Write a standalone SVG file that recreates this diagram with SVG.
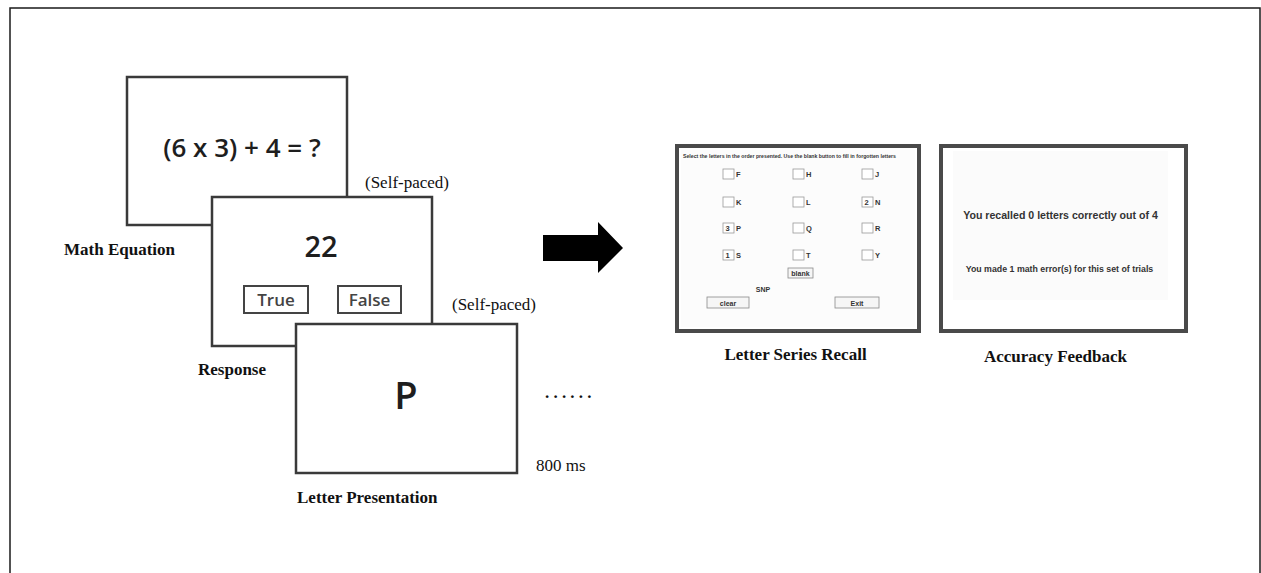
<svg xmlns="http://www.w3.org/2000/svg" width="1261" height="573" viewBox="0 0 1261 573">
  <style>
    .frame { fill: #ffffff; stroke: #1a1a1a; stroke-width: 1.5; }
    .card { fill: #ffffff; stroke: #3a3a3a; stroke-width: 2.5; }
    .screen { fill: #ffffff; stroke: #4a4a4a; stroke-width: 4; }
    .btn { fill: #ffffff; stroke: #444444; stroke-width: 2; }
    .sbox { fill: #ffffff; stroke: #9a9a9a; stroke-width: 0.8; }
    .sbtn { fill: #f6f6f6; stroke: #8a8a8a; stroke-width: 0.8; }
    .cap { font-family: "Liberation Serif", serif; font-weight: bold; font-size: 17px; fill: #111111; }
    .note { font-family: "Liberation Serif", serif; font-size: 17px; fill: #111111; }
    .big { font-family: "Open Sans", sans-serif; fill: #1e1e1e; text-anchor: middle; }
    .btxt { font-family: "Open Sans", sans-serif; font-weight: 600; font-size: 17px; fill: #444444; text-anchor: middle; }
    .ui { font-family: "Liberation Sans", sans-serif; font-weight: bold; fill: #333333; }
  </style>

  <!-- outer border -->
  <rect class="frame" x="10" y="8" width="1250" height="600"/>

  <!-- math equation card -->
  <g id="math-equation">
    <rect class="card" x="127" y="77" width="220" height="148"/>
    <text class="big" x="242" y="157" font-size="26" font-weight="600">(6 x 3) + 4 = ?</text>
    <text class="cap" x="64" y="255">Math Equation</text>
    <text class="note" x="365" y="188">(Self-paced)</text>
  </g>

  <!-- response card -->
  <g id="response">
    <rect class="card" x="212" y="197" width="220" height="149"/>
    <text class="big" x="321" y="257" font-size="29" font-weight="600">22</text>
    <rect class="btn" x="244" y="286" width="64" height="27"/>
    <text class="btxt" x="276" y="306">True</text>
    <rect class="btn" x="338" y="286" width="63" height="27"/>
    <text class="btxt" x="369.5" y="306">False</text>
    <text class="cap" x="198" y="375">Response</text>
    <text class="note" x="452" y="310">(Self-paced)</text>
  </g>

  <!-- letter presentation card -->
  <g id="letter-presentation">
    <rect class="card" x="296" y="324" width="221" height="149"/>
    <text class="big" x="406" y="409" font-size="38" font-weight="600">P</text>
    <text class="note" x="536" y="471">800 ms</text>
    <text class="cap" x="297" y="503">Letter Presentation</text>
    <text class="note" x="545" y="398" font-weight="bold" letter-spacing="4.2">......</text>
  </g>

  <!-- transition arrow -->
  <g id="connectors">
    <path d="M543 235 H598 V222 L623 248 L598 273 V261 H543 Z" fill="#000000"/>
  </g>

  <!-- letter series recall screen -->
  <g id="letter-series-recall">
    <rect class="screen" x="677" y="146" width="242" height="185"/>
    <rect x="681" y="150" width="234" height="177" fill="#fcfcfc"/>
    <text class="ui" x="683" y="158" font-size="5.2">Select the letters in the order presented.  Use the blank button to fill in forgotten letters</text>

    <g font-size="7.5">
      <!-- row 1 -->
      <rect class="sbox" x="723" y="169" width="11" height="10"/>
      <text class="ui" x="736" y="177">F</text>
      <rect class="sbox" x="793" y="169" width="11" height="10"/>
      <text class="ui" x="806" y="177">H</text>
      <rect class="sbox" x="862" y="169" width="11" height="10"/>
      <text class="ui" x="875" y="177">J</text>
      <!-- row 2 -->
      <rect class="sbox" x="723" y="197" width="11" height="10"/>
      <text class="ui" x="736" y="205">K</text>
      <rect class="sbox" x="793" y="197" width="11" height="10"/>
      <text class="ui" x="806" y="205">L</text>
      <rect class="sbox" x="862" y="197" width="11" height="10"/>
      <text class="ui" x="864.5" y="205">2</text>
      <text class="ui" x="875" y="205">N</text>
      <!-- row 3 -->
      <rect class="sbox" x="723" y="223" width="11" height="10"/>
      <text class="ui" x="725.5" y="231">3</text>
      <text class="ui" x="736" y="231">P</text>
      <rect class="sbox" x="793" y="223" width="11" height="10"/>
      <text class="ui" x="806" y="231">Q</text>
      <rect class="sbox" x="862" y="223" width="11" height="10"/>
      <text class="ui" x="875" y="231">R</text>
      <!-- row 4 -->
      <rect class="sbox" x="723" y="250" width="11" height="10"/>
      <text class="ui" x="725.5" y="258">1</text>
      <text class="ui" x="736" y="258">S</text>
      <rect class="sbox" x="793" y="250" width="11" height="10"/>
      <text class="ui" x="806" y="258">T</text>
      <rect class="sbox" x="862" y="250" width="11" height="10"/>
      <text class="ui" x="875" y="258">Y</text>
    </g>

    <rect class="sbtn" x="788" y="268" width="25" height="10"/>
    <text class="ui" x="800.5" y="276" font-size="7" text-anchor="middle">blank</text>
    <text class="ui" x="763" y="292" font-size="7" text-anchor="middle">SNP</text>
    <rect class="sbtn" x="707" y="297" width="42" height="11"/>
    <text class="ui" x="728" y="305.5" font-size="7" text-anchor="middle">clear</text>
    <rect class="sbtn" x="835" y="297" width="44" height="11"/>
    <text class="ui" x="857" y="305.5" font-size="7" text-anchor="middle">Exit</text>

    <text class="cap" x="795.5" y="360" text-anchor="middle">Letter Series Recall</text>
  </g>

  <!-- accuracy feedback screen -->
  <g id="accuracy-feedback">
    <rect class="screen" x="941" y="146" width="245" height="185"/>
    <rect x="953" y="151" width="215" height="149" fill="#fbfbfb"/>
    <text class="ui" x="1060.5" y="219" font-size="10.6" text-anchor="middle" fill="#3a3a3a">You recalled 0 letters correctly out of 4</text>
    <text class="ui" x="1059.5" y="271.5" font-size="8.8" text-anchor="middle" fill="#3a3a3a">You made 1 math error(s) for this set of trials</text>
    <text class="cap" x="1055.5" y="362" text-anchor="middle">Accuracy Feedback</text>
  </g>
</svg>
